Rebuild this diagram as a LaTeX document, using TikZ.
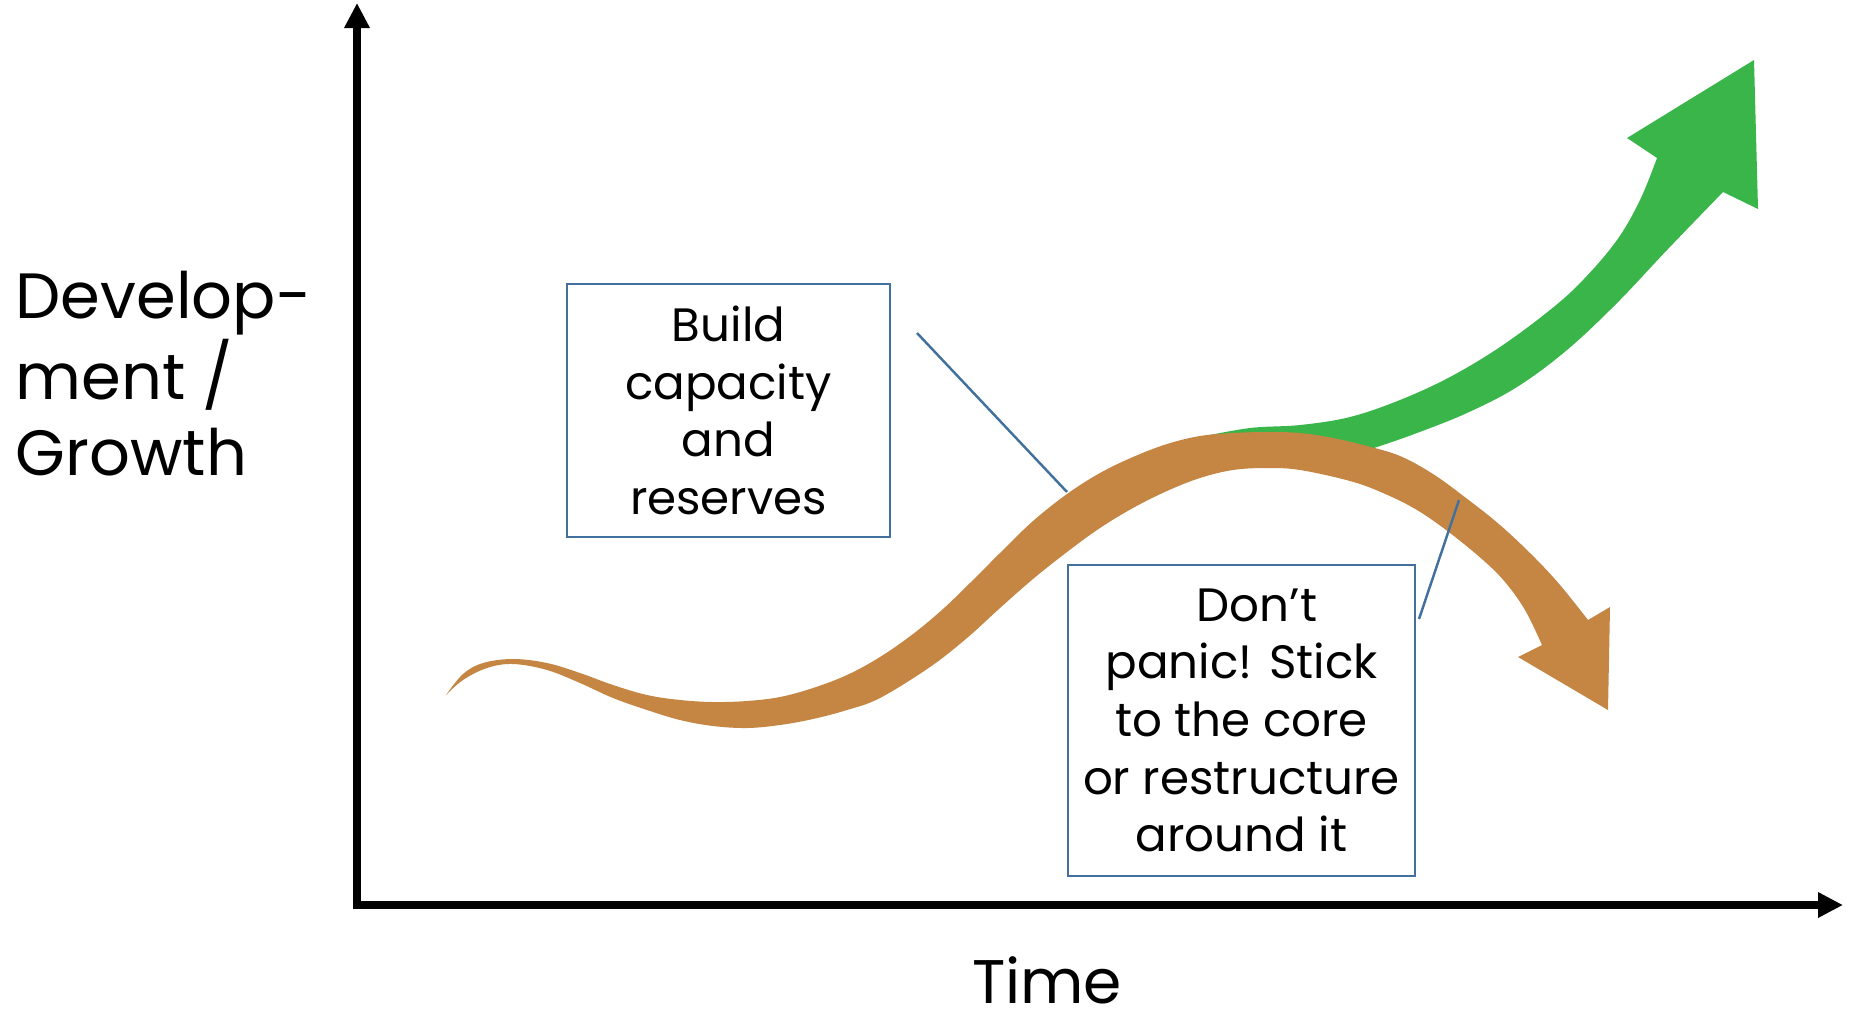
\documentclass[tikz,border=0pt]{standalone}
\usepackage{fontspec}
\setmainfont{Poppins}
\usepackage{tikz}
\usetikzlibrary{arrows.meta}

\definecolor{curvebrown}{RGB}{197,134,68}
\definecolor{growgreen}{RGB}{57,181,74}
\definecolor{calloutblue}{RGB}{65,113,156}

\begin{document}
\begin{tikzpicture}[
    x=0.01cm, y=-0.01cm,
    axis/.style={line width=2.1pt, {Triangle[length=0.25cm,width=0.24cm]}-{Triangle[length=0.25cm,width=0.24cm]}},
    box/.style={draw=calloutblue, line width=0.7pt, align=center, inner sep=0pt, font=\fontsize{13.3}{16.4}\selectfont},
    pointer/.style={draw=calloutblue, line width=0.7pt},
    axislabel/.style={inner sep=0pt, font=\fontsize{18.2}{21.6}\selectfont}
  ]
    \useasboundingbox (0,0) rectangle (1849,1015);

    % axes
    \coordinate (ytop) at (357,3);
    \coordinate (origin) at (357,905);
    \coordinate (xend) at (1843,905);
    \draw[axis] (ytop) -- (origin) -- (xend);
    \node[axislabel, anchor=base west, align=left] (ylab) at (15,475) {Develop-\\ment /\\Growth};
    \node[axislabel, anchor=base, font=\fontsize{17.5}{21}\selectfont] (xlab) at (1047,1003) {Time};

    % green arrow, partly hidden behind the brown one
    \fill[growgreen] plot[smooth, tension=0.6] coordinates {(1200,437) (1250,428) (1300,425) (1350,417) (1400,400) (1450,377) (1500,347) (1550,310) (1583,280) (1617,240) (1640,200) (1657,158)}
      -- (1627,138) -- (1754,60) -- (1758,209) -- (1723,192)
      -- plot[smooth, tension=0.6] coordinates {(1723,192) (1667,250) (1617,303) (1567,350) (1517,387) (1467,413) (1417,433) (1377,447) (1330,462)} -- cycle;

    % brown wave with its arrow head
    \fill[curvebrown] plot[smooth, tension=0.6] coordinates {(446,695) (463,674) (483,663) (513,659) (547,663) (580,673) (613,685) (647,695) (680,700) (713,702) (747,701) (780,697) (813,688) (847,675) (880,657) (913,634) (943,609) (972,581) (1002,551) (1033,521) (1067,494) (1100,473) (1133,457) (1167,444) (1200,436) (1233,433) (1267,432) (1300,433) (1333,438) (1367,446) (1400,456) (1433,474) (1466,498) (1500,525) (1533,556) (1560,585) (1588,620)}
      -- (1610,607) -- (1608,710) -- (1518,657) -- (1542,645)
      -- plot[smooth, tension=0.6] coordinates {(1542,645) (1525,610) (1505,582) (1483,560) (1450,533) (1417,510) (1383,493) (1350,481) (1300,470) (1267,468) (1233,470) (1200,478) (1167,491) (1133,508) (1100,528) (1067,552) (1033,579) (1000,608) (967,638) (930,667) (880,698) (847,710) (813,719) (780,725) (747,728) (713,726) (680,720) (647,710) (613,698) (580,683) (547,670) (513,664) (487,668) (463,680) (446,695)} -- cycle;

    % callout boxes
    \node[box, minimum width=3.23cm, minimum height=2.53cm] (build) at (728.5,410.5) {Build\\capacity\\and\\reserves};
    \node[box, minimum width=3.47cm, minimum height=3.11cm] (panic) at (1241.5,720.5) {\hspace*{0.31cm}Don’t\\panic! Stick\\to the core\\or restructure\\around it};

    \coordinate (buildtip) at (917,333);
    \coordinate (buildend) at (1067,492);
    \coordinate (panictip) at (1419,619);
    \coordinate (panicend) at (1459,500);
    \draw[pointer] (buildtip) -- (buildend);
    \draw[pointer] (panictip) -- (panicend);
  \end{tikzpicture}
\end{document}
